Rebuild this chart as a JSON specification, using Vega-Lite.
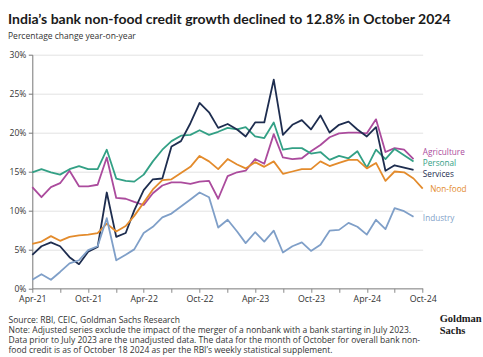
{
  "$schema": "https://vega.github.io/schema/vega-lite/v6.json",
  "width": 390.4,
  "height": 233.6,
  "autosize": {"type": "none"},
  "padding": {"left": 32.3, "top": 54.7, "right": 60.3, "bottom": 68.7},
  "background": "white",
  "config": {"view": {"stroke": null}, "font": "Open Sans"},
  "title": {
    "text": "India’s bank non-food credit growth declined to 12.8% in October 2024",
    "subtitle": "Percentage change year-on-year",
    "anchor": "start",
    "frame": "group",
    "dx": -24.3,
    "offset": 10.5,
    "font": "Lato",
    "fontSize": 14,
    "fontWeight": "bold",
    "color": "#1a1a1a",
    "subtitleFont": "Open Sans",
    "subtitleFontSize": 8.5,
    "subtitleColor": "#333333",
    "subtitlePadding": 5
  },
  "data": {
    "values": [
      {"date": "2021-04-01T00:00:00", "Agriculture": 13.0, "Personal": 14.9, "Services": 4.3, "Non-food": 5.7, "Industry": 1.1},
      {"date": "2021-05-01T00:00:00", "Agriculture": 11.7, "Personal": 15.3, "Services": 5.4, "Non-food": 6.0, "Industry": 1.8},
      {"date": "2021-06-01T00:00:00", "Agriculture": 13.0, "Personal": 14.9, "Services": 5.9, "Non-food": 6.7, "Industry": 1.1},
      {"date": "2021-07-01T00:00:00", "Agriculture": 13.5, "Personal": 14.6, "Services": 5.4, "Non-food": 6.1, "Industry": 2.1},
      {"date": "2021-08-01T00:00:00", "Agriculture": 15.1, "Personal": 15.3, "Services": 4.0, "Non-food": 6.6, "Industry": 3.2},
      {"date": "2021-09-01T00:00:00", "Agriculture": 13.1, "Personal": 15.7, "Services": 3.1, "Non-food": 6.8, "Industry": 3.6},
      {"date": "2021-10-01T00:00:00", "Agriculture": 13.1, "Personal": 15.3, "Services": 4.7, "Non-food": 6.9, "Industry": 4.9},
      {"date": "2021-11-01T00:00:00", "Agriculture": 13.3, "Personal": 15.3, "Services": 5.3, "Non-food": 7.1, "Industry": 5.4},
      {"date": "2021-12-01T00:00:00", "Agriculture": 16.8, "Personal": 17.8, "Services": 12.3, "Non-food": 8.3, "Industry": 9.0},
      {"date": "2022-01-01T00:00:00", "Agriculture": 11.6, "Personal": 14.1, "Services": 6.6, "Non-food": 7.3, "Industry": 3.6},
      {"date": "2022-02-01T00:00:00", "Agriculture": 11.5, "Personal": 13.8, "Services": 7.1, "Non-food": 8.0, "Industry": 4.3},
      {"date": "2022-03-01T00:00:00", "Agriculture": 11.1, "Personal": 13.7, "Services": 10.0, "Non-food": 9.3, "Industry": 5.0},
      {"date": "2022-04-01T00:00:00", "Agriculture": 10.7, "Personal": 14.6, "Services": 12.6, "Non-food": 11.0, "Industry": 7.1},
      {"date": "2022-05-01T00:00:00", "Agriculture": 12.2, "Personal": 16.3, "Services": 14.0, "Non-food": 12.7, "Industry": 7.9},
      {"date": "2022-06-01T00:00:00", "Agriculture": 13.2, "Personal": 17.8, "Services": 14.1, "Non-food": 13.9, "Industry": 9.1},
      {"date": "2022-07-01T00:00:00", "Agriculture": 13.6, "Personal": 18.9, "Services": 18.2, "Non-food": 14.0, "Industry": 9.6},
      {"date": "2022-08-01T00:00:00", "Agriculture": 13.6, "Personal": 19.6, "Services": 18.9, "Non-food": 14.8, "Industry": 10.5},
      {"date": "2022-09-01T00:00:00", "Agriculture": 13.4, "Personal": 19.7, "Services": 21.2, "Non-food": 15.6, "Industry": 11.4},
      {"date": "2022-10-01T00:00:00", "Agriculture": 13.7, "Personal": 20.3, "Services": 23.8, "Non-food": 17.0, "Industry": 12.3},
      {"date": "2022-11-01T00:00:00", "Agriculture": 13.8, "Personal": 19.7, "Services": 22.6, "Non-food": 16.3, "Industry": 11.7},
      {"date": "2022-12-01T00:00:00", "Agriculture": 11.5, "Personal": 20.1, "Services": 20.6, "Non-food": 15.3, "Industry": 7.8},
      {"date": "2023-01-01T00:00:00", "Agriculture": 14.4, "Personal": 20.6, "Services": 21.1, "Non-food": 16.6, "Industry": 8.8},
      {"date": "2023-02-01T00:00:00", "Agriculture": 14.9, "Personal": 20.4, "Services": 20.4, "Non-food": 15.9, "Industry": 7.3},
      {"date": "2023-03-01T00:00:00", "Agriculture": 15.1, "Personal": 20.7, "Services": 19.5, "Non-food": 15.4, "Industry": 5.8},
      {"date": "2023-04-01T00:00:00", "Agriculture": 16.6, "Personal": 19.5, "Services": 21.3, "Non-food": 16.2, "Industry": 7.2},
      {"date": "2023-05-01T00:00:00", "Agriculture": 16.0, "Personal": 19.3, "Services": 21.3, "Non-food": 15.6, "Industry": 6.0},
      {"date": "2023-06-01T00:00:00", "Agriculture": 19.8, "Personal": 21.3, "Services": 26.8, "Non-food": 16.3, "Industry": 7.4},
      {"date": "2023-07-01T00:00:00", "Agriculture": 16.8, "Personal": 17.8, "Services": 19.7, "Non-food": 14.7, "Industry": 4.6},
      {"date": "2023-08-01T00:00:00", "Agriculture": 16.6, "Personal": 18.0, "Services": 21.0, "Non-food": 15.0, "Industry": 5.4},
      {"date": "2023-09-01T00:00:00", "Agriculture": 16.7, "Personal": 18.0, "Services": 21.6, "Non-food": 15.3, "Industry": 5.9},
      {"date": "2023-10-01T00:00:00", "Agriculture": 17.6, "Personal": 17.3, "Services": 20.4, "Non-food": 15.3, "Industry": 4.8},
      {"date": "2023-11-01T00:00:00", "Agriculture": 18.4, "Personal": 17.5, "Services": 22.2, "Non-food": 16.3, "Industry": 5.6},
      {"date": "2023-12-01T00:00:00", "Agriculture": 19.4, "Personal": 16.5, "Services": 20.0, "Non-food": 15.7, "Industry": 7.4},
      {"date": "2024-01-01T00:00:00", "Agriculture": 19.9, "Personal": 17.0, "Services": 21.0, "Non-food": 16.1, "Industry": 7.5},
      {"date": "2024-02-01T00:00:00", "Agriculture": 20.0, "Personal": 16.7, "Services": 21.4, "Non-food": 16.5, "Industry": 8.4},
      {"date": "2024-03-01T00:00:00", "Agriculture": 20.0, "Personal": 17.6, "Services": 20.4, "Non-food": 16.5, "Industry": 7.9},
      {"date": "2024-04-01T00:00:00", "Agriculture": 19.9, "Personal": 15.5, "Services": 19.5, "Non-food": 15.4, "Industry": 6.9},
      {"date": "2024-05-01T00:00:00", "Agriculture": 21.7, "Personal": 17.8, "Services": 20.7, "Non-food": 16.1, "Industry": 8.8},
      {"date": "2024-06-01T00:00:00", "Agriculture": 17.5, "Personal": 16.6, "Services": 15.1, "Non-food": 13.8, "Industry": 7.6},
      {"date": "2024-07-01T00:00:00", "Agriculture": 18.0, "Personal": 17.9, "Services": 15.8, "Non-food": 15.0, "Industry": 10.3},
      {"date": "2024-08-01T00:00:00", "Agriculture": 17.8, "Personal": 17.1, "Services": 15.5, "Non-food": 14.9, "Industry": 9.9},
      {"date": "2024-09-01T00:00:00", "Agriculture": 16.6, "Personal": 16.3, "Services": 15.2, "Non-food": 14.1, "Industry": 9.2},
      {"date": "2024-10-01T00:00:00", "Non-food": 12.8}
    ]
  },
  "transform": [
    {"fold": ["Agriculture", "Personal", "Services", "Non-food", "Industry"], "as": ["series", "value"]},
    {"filter": "isValid(datum.value)"}
  ],
  "resolve": {"axis": {"y": "independent"}},
  "layer": [
    {
      "mark": {"type": "line", "strokeWidth": 1.8, "strokeJoin": "round"},
      "encoding": {
        "x": {
          "field": "date",
          "type": "temporal",
          "scale": {"domain": [{"year": 2021, "month": 4, "date": 1}, {"year": 2024, "month": 10, "date": 1}]},
          "axis": {
            "tickCount": {"interval": "month", "step": 3},
            "labelExpr": "(month(datum.value) == 3 || month(datum.value) == 9) ? timeFormat(datum.value, '%b-%y') : ''",
            "grid": false,
            "domainColor": "#8a8a8a",
            "tickColor": "#8a8a8a",
            "tickSize": 4,
            "labelFont": "Open Sans",
            "labelFontSize": 8.8,
            "labelColor": "#333333",
            "labelPadding": 2,
            "labelFlush": false,
            "labelOverlap": false,
            "title": [
              "Source: RBI, CEIC, Goldman Sachs Research",
              "Note: Adjusted series exclude the impact of the merger of a nonbank with a bank starting in July 2023.",
              "Data prior to July 2023 are the unadjusted data. The data for the month of October for overall bank non-",
              "food credit is as of October 18 2024 as per the RBI’s weekly statistical supplement."
            ],
            "titleFont": "Open Sans",
            "titleFontSize": 8.5,
            "titleFontWeight": "normal",
            "titleColor": "#333333",
            "titleAnchor": "start",
            "titleAlign": "left",
            "titleBaseline": "top",
            "titleX": -24.3,
            "titleY": 27.5,
            "titleLineHeight": 10
          }
        },
        "y": {
          "field": "value",
          "type": "quantitative",
          "scale": {"domain": [0, 30]},
          "axis": {
            "orient": "left",
            "title": null,
            "values": [0, 5, 10, 15, 20, 25, 30],
            "labelExpr": "datum.value + '%'",
            "grid": true,
            "gridColor": "#e2e2e2",
            "domainColor": "#777777",
            "tickColor": "#777777",
            "tickSize": 4,
            "labelFont": "Open Sans",
            "labelFontSize": 8.5,
            "labelColor": "#333333",
            "labelPadding": 2.5
          }
        },
        "color": {
          "field": "series",
          "type": "nominal",
          "scale": {
            "domain": ["Agriculture", "Personal", "Services", "Non-food", "Industry"],
            "range": ["#ab4b9d", "#33a085", "#1e2d4f", "#e38b2c", "#7f9fc8"]
          },
          "legend": null
        }
      }
    },
    {
      "transform": [{"filter": "datum.series == 'Agriculture' && year(datum.date) == 2024 && month(datum.date) == 8"}],
      "mark": {"type": "text", "align": "left", "baseline": "middle", "dx": 9.3, "dy": -6.5, "font": "Open Sans", "fontSize": 8.2},
      "encoding": {
        "x": {"field": "date", "type": "temporal"},
        "y": {"field": "value", "type": "quantitative", "axis": null},
        "text": {"field": "series"},
        "color": {"field": "series", "type": "nominal", "legend": null}
      }
    },
    {
      "transform": [{"filter": "datum.series == 'Personal' && year(datum.date) == 2024 && month(datum.date) == 8"}],
      "mark": {"type": "text", "align": "left", "baseline": "middle", "dx": 9.3, "dy": 2.8, "font": "Open Sans", "fontSize": 8.2},
      "encoding": {
        "x": {"field": "date", "type": "temporal"},
        "y": {"field": "value", "type": "quantitative", "axis": null},
        "text": {"field": "series"},
        "color": {"field": "series", "type": "nominal", "legend": null}
      }
    },
    {
      "transform": [{"filter": "datum.series == 'Services' && year(datum.date) == 2024 && month(datum.date) == 8"}],
      "mark": {"type": "text", "align": "left", "baseline": "middle", "dx": 9.3, "dy": 5.5, "font": "Open Sans", "fontSize": 8.2},
      "encoding": {
        "x": {"field": "date", "type": "temporal"},
        "y": {"field": "value", "type": "quantitative", "axis": null},
        "text": {"field": "series"},
        "color": {"field": "series", "type": "nominal", "legend": null}
      }
    },
    {
      "transform": [{"filter": "datum.series == 'Non-food' && year(datum.date) == 2024 && month(datum.date) == 9"}],
      "mark": {"type": "text", "align": "left", "baseline": "middle", "dx": 7.5, "dy": 1.2, "font": "Open Sans", "fontSize": 8.2},
      "encoding": {
        "x": {"field": "date", "type": "temporal"},
        "y": {"field": "value", "type": "quantitative", "axis": null},
        "text": {"field": "series"},
        "color": {"field": "series", "type": "nominal", "legend": null}
      }
    },
    {
      "transform": [{"filter": "datum.series == 'Industry' && year(datum.date) == 2024 && month(datum.date) == 8"}],
      "mark": {"type": "text", "align": "left", "baseline": "middle", "dx": 9.3, "dy": 2.2, "font": "Open Sans", "fontSize": 8.2},
      "encoding": {
        "x": {"field": "date", "type": "temporal"},
        "y": {
          "field": "value",
          "type": "quantitative",
          "axis": {
            "orient": "right",
            "labels": false,
            "ticks": false,
            "domain": false,
            "grid": false,
            "title": ["Goldman", "Sachs"],
            "titleAngle": 0,
            "titleAlign": "left",
            "titleBaseline": "top",
            "titleAnchor": null,
            "titleX": 16.5,
            "titleY": 259,
            "titleFont": "Liberation Serif",
            "titleFontSize": 10.5,
            "titleFontWeight": "bold",
            "titleColor": "#1a1a1a",
            "titleLineHeight": 12
          }
        },
        "text": {"field": "series"},
        "color": {"field": "series", "type": "nominal", "legend": null}
      }
    }
  ]
}
